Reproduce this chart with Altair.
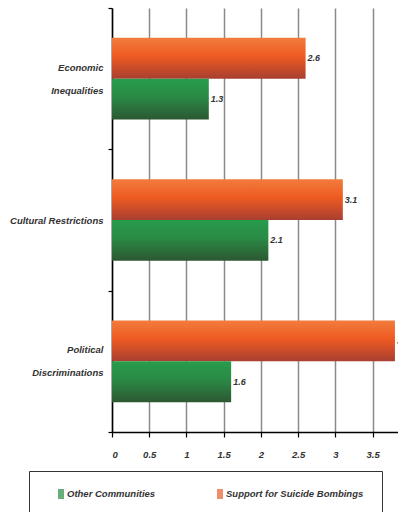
import altair as alt
import pandas as pd

categories = ["Economic Inequalities", "Cultural Restrictions", "Political Discriminations"]
support_values = [2.6, 3.1, 3.8]
other_values = [1.3, 2.1, 1.6]
series_order = ["Support for Suicide Bombings", "Other Communities"]
legend_order = ["Other Communities", "Support for Suicide Bombings"]
x_ticks = [0, 0.5, 1, 1.5, 2, 2.5, 3, 3.5]

rows = []
for c, s, o in zip(categories, support_values, other_values):
    rows.append({"category": c, "series": "Support for Suicide Bombings", "value": s})
    rows.append({"category": c, "series": "Other Communities", "value": o})
df = pd.DataFrame(rows)

FONT = "Liberation Sans, Arial, sans-serif"
TXT = "#333333"
NB = "\u00a0"

orange_grad = alt.LinearGradient(
    gradient="linear", x1=0, y1=0, x2=0, y2=1,
    stops=[alt.GradientStop(color="#F27C3C", offset=0),
           alt.GradientStop(color="#EE5A22", offset=0.45),
           alt.GradientStop(color="#A83F30", offset=1)])
green_grad = alt.LinearGradient(
    gradient="linear", x1=0, y1=0, x2=0, y2=1,
    stops=[alt.GradientStop(color="#279C4C", offset=0),
           alt.GradientStop(color="#2A8A45", offset=0.45),
           alt.GradientStop(color="#2C5732", offset=1)])

label_expr = (
    "datum.value == 'Economic Inequalities' ? ['Economic" + NB + "', 'Inequalities'] : "
    "datum.value == 'Political Discriminations' ? ['Political" + NB * 7 + "', 'Discriminations'] : datum.value"
)
legend_label_expr = (
    "datum.label == 'Support for Suicide Bombings' ? datum.label + '" + NB * 4 + "' : datum.label"
)

x_enc = alt.X("value:Q",
              scale=alt.Scale(domain=[0, 3.841], nice=False, zero=True),
              axis=alt.Axis(values=x_ticks, format="~g", title=None, grid=True,
                            gridColor="#8a8a8a", gridWidth=1.5,
                            domainColor="black", domainWidth=1.5,
                            tickColor="black", tickSize=5, tickWidth=1.2,
                            labelFont=FONT, labelFontSize=9.5, labelFontStyle="italic",
                            labelFontWeight="bold", labelColor=TXT, labelPadding=12))
y_enc = alt.Y("category:N", sort=categories,
              scale=alt.Scale(paddingInner=0, paddingOuter=0),
              axis=alt.Axis(title=None, tickBand="extent", domainColor="black", domainWidth=1.5,
                            tickColor="black", tickSize=4, tickWidth=1.2,
                            labelExpr=label_expr, labelAlign="right", labelBaseline="middle",
                            labelOffset={"condition": {"test": "datum.value != 'Cultural Restrictions'",
                                                       "value": -11.5},
                                         "value": 0},
                            labelPadding=5, labelFont=FONT, labelFontSize=9.5,
                            labelLineHeight=23, labelFontStyle="italic", labelFontWeight="bold",
                            labelColor=TXT, labelLimit=0))
yoff_enc = alt.YOffset("series:N", sort=series_order,
                       scale=alt.Scale(domain=series_order, paddingOuter=0.73, paddingInner=0))

base = alt.Chart(df).encode(x=x_enc, y=y_enc, yOffset=yoff_enc)

bars_support = base.transform_filter(
    alt.datum.series == "Support for Suicide Bombings").mark_bar(color=orange_grad, clip=True)
bars_other = base.transform_filter(
    alt.datum.series == "Other Communities").mark_bar(color=green_grad, clip=True)

labels = base.mark_text(align="left", baseline="middle", dx=2, font=FONT, fontSize=9,
                        fontStyle="italic", fontWeight="bold", color=TXT).encode(
    text=alt.Text("value:Q", format=".1f"))

legend_layer = alt.Chart(df).transform_filter("false").mark_square().encode(
    fill=alt.Fill("series:N",
                  scale=alt.Scale(domain=legend_order, range=["#2A8A45", "#E8602A"]),
                  legend=alt.Legend(orient="none", legendX=-83, legendY=463,
                                    direction="horizontal", title=NB, titleOrient="left",
                                    titlePadding=9, strokeColor="#333333", padding=18,
                                    labelFont=FONT, labelFontSize=9.5, labelFontStyle="italic",
                                    labelFontWeight="bold", labelColor=TXT,
                                    labelExpr=legend_label_expr,
                                    symbolType="M-0.6,-1H0.6V1H-0.6Z", symbolSize=100,
                                    symbolStrokeWidth=0, labelOffset=1, columnPadding=59)))

chart = alt.layer(bars_support, bars_other, labels, legend_layer).properties(
    width=286, height=424,
    autosize=alt.AutoSizeParams(type="none"),
    padding={"left": 112, "top": 8, "right": 0, "bottom": 80},
    background="white",
).configure_view(stroke=None)

chart.save("out.html", embed_options={"renderer": "svg", "actions": False})
